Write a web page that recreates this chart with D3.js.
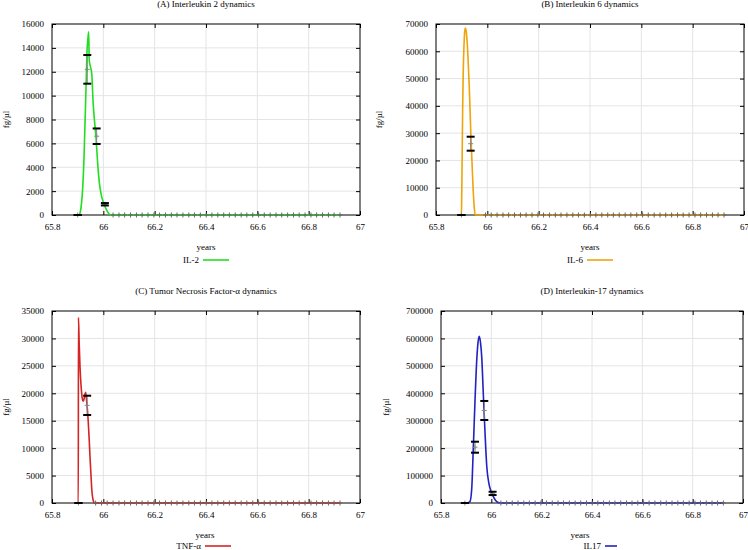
<!DOCTYPE html>
<html>
<head>
<meta charset="utf-8">
<script src="https://cdn.jsdelivr.net/npm/d3@7"></script>
<style>
  html, body { margin: 0; padding: 0; background: #fff; }
  svg { display: block; }
  text { font-family: "Liberation Serif", "Times New Roman", serif; font-size: 9px; fill: #000; }
</style>
</head>
<body>
<div id="chart"></div>
<script>
// ---------------- DATA ----------------
const xTicks = [65.8, 66, 66.2, 66.4, 66.6, 66.8, 67];

const titles = ["(A) Interleukin 2 dynamics", "(B) Interleukin 6 dynamics",
                "(C) Tumor Necrosis Factor-\u03b1 dynamics", "(D) Interleukin-17 dynamics"];
const seriesNames = ["IL-2", "IL-6", "TNF-\u03b1", "IL17"];
const yLabel = "fg/\u00b5l";
const xLabel = "years";

const il2Ticks  = [0, 2000, 4000, 6000, 8000, 10000, 12000, 14000, 16000];
const il6Ticks  = [0, 10000, 20000, 30000, 40000, 50000, 60000, 70000];
const tnfTicks  = [0, 5000, 10000, 15000, 20000, 25000, 30000, 35000];
const il17Ticks = [0, 100000, 200000, 300000, 400000, 500000, 600000, 700000];

// model curves
const il2Years  = [65.886, 65.905, 65.909, 65.915, 65.920, 65.925, 65.929, 65.933, 65.936, 65.940, 65.943, 65.945, 65.950, 65.955, 65.960, 65.966, 65.972, 65.978, 65.985, 65.994, 66.003, 66.013, 66.028, 66.922];
const il2Values = [0, 0, 150, 1000, 2400, 5000, 8000, 11000, 13500, 14800, 15350, 13000, 12400, 11800, 9500, 7800, 6300, 4300, 2600, 1500, 900, 400, 0, 0];

const il6Years  = [65.886, 65.899, 65.900, 65.902, 65.904, 65.906, 65.909, 65.912, 65.915, 65.918, 65.922, 65.926, 65.930, 65.936, 65.943, 65.948, 65.951, 65.954, 66.922];
const il6Values = [0, 0, 5000, 22000, 40000, 52000, 62000, 67500, 68500, 67000, 62500, 55000, 46000, 29000, 13000, 4000, 1000, 0, 0];

const tnfYears  = [65.890, 65.9025, 65.903, 65.906, 65.909, 65.913, 65.916, 65.920, 65.923, 65.927, 65.931, 65.934, 65.938, 65.941, 65.945, 65.948, 65.952, 65.955, 65.960, 65.966, 66.922];
const tnfValues = [0, 0, 33800, 29000, 25000, 21500, 19800, 18700, 18600, 19500, 20200, 19000, 17000, 15000, 11500, 8500, 5000, 2500, 600, 0, 0];

const il17Years  = [65.885, 65.905, 65.915, 65.922, 65.928, 65.935, 65.942, 65.947, 65.952, 65.957, 65.962, 65.968, 65.975, 65.982, 65.991, 66.000, 66.008, 66.018, 66.028, 66.037, 66.922];
const il17Values = [0, 0, 5000, 50000, 190000, 370000, 520000, 585000, 608000, 585000, 530000, 400000, 254000, 132000, 68000, 40000, 23000, 8000, 1500, 0, 0];

// measured data with error bars
const il2ErrYears = [65.900, 65.9375, 65.974, 66.006];
const il2ErrLow   = [0, 11000, 5950, 800];
const il2ErrHigh  = [0, 13400, 7250, 1000];

const il6ErrYears = [65.899, 65.935];
const il6ErrLow   = [0, 23570];
const il6ErrHigh  = [0, 28690];

const tnfErrYears = [65.903, 65.937];
const tnfErrLow   = [0, 16040];
const tnfErrHigh  = [0, 19560];

const il17ErrYears = [65.895, 65.935, 65.972, 66.005];
const il17ErrLow   = [0, 183400, 302600, 29000];
const il17ErrHigh  = [0, 223500, 372000, 41000];

// later measurements sitting at zero
const zeroYears = [65.970, 65.993, 66.015, 66.038, 66.061, 66.083, 66.106, 66.129, 66.151, 66.174, 66.197, 66.219, 66.242, 66.265, 66.287, 66.310, 66.333, 66.355, 66.378, 66.401, 66.423, 66.446, 66.469, 66.491, 66.514, 66.537, 66.559, 66.582, 66.605, 66.627, 66.650, 66.673, 66.695, 66.718, 66.741, 66.763, 66.786, 66.809, 66.831, 66.854, 66.877, 66.899, 66.922];
const zeroFrom = [66.03, 65.99, 65.96, 66.03];

// ---------------- LAYOUT ----------------
const W = 748, H = 550;
const colors = ["#22dd22", "#f0a30a", "#d42424", "#2222c0"];
const boxes = [
  { left: 52,  right: 360, top: 24,  bottom: 215, ylabX: 6,   labShift: 0,   keyDx: -7, keyLen: 26, keyDy: 48 },
  { left: 436, right: 744, top: 24,  bottom: 215, ylabX: 379, labShift: 0,   keyDx: -7, keyLen: 26, keyDy: 48 },
  { left: 52,  right: 360, top: 311, bottom: 503, ylabX: 6,   labShift: -1,  keyDx: -5, keyLen: 26, keyDy: 46 },
  { left: 441, right: 743, top: 311, bottom: 503, ylabX: 386, labShift: -12, keyDx: 9,  keyLen: 12, keyDy: 46 }
];
const curves = [
  { years: il2Years, values: il2Values, ticks: il2Ticks, ex: il2ErrYears, el: il2ErrLow, eh: il2ErrHigh },
  { years: il6Years, values: il6Values, ticks: il6Ticks, ex: il6ErrYears, el: il6ErrLow, eh: il6ErrHigh },
  { years: tnfYears, values: tnfValues, ticks: tnfTicks, ex: tnfErrYears, el: tnfErrLow, eh: tnfErrHigh },
  { years: il17Years, values: il17Values, ticks: il17Ticks, ex: il17ErrYears, el: il17ErrLow, eh: il17ErrHigh }
];

const svg = d3.select("#chart").append("svg").attr("width", W).attr("height", H);

boxes.forEach((b, i) => {
  const c = curves[i];
  const g = svg.append("g");
  const x = d3.scaleLinear().domain([xTicks[0], xTicks[xTicks.length - 1]]).range([b.left, b.right]);
  const y = d3.scaleLinear().domain([c.ticks[0], c.ticks[c.ticks.length - 1]]).range([b.bottom, b.top]);
  const cx = (b.left + b.right) / 2;

  // grid
  g.append("g").selectAll("line.gx").data(xTicks.slice(1, -1)).join("line")
    .attr("x1", d => x(d)).attr("x2", d => x(d)).attr("y1", b.top).attr("y2", b.bottom)
    .attr("stroke", "#e4e4e4").attr("stroke-width", 1);
  g.append("g").selectAll("line.gy").data(c.ticks.slice(1, -1)).join("line")
    .attr("x1", b.left).attr("x2", b.right).attr("y1", d => y(d)).attr("y2", d => y(d))
    .attr("stroke", "#e4e4e4").attr("stroke-width", 1);

  // axes (bottom/left with labels, top/right mirrored ticks)
  const ax = g.append("g").attr("transform", `translate(0,${b.bottom})`)
    .call(d3.axisBottom(x).tickValues(xTicks).tickSize(-4).tickPadding(9).tickFormat(d3.format("")));
  const axT = g.append("g").attr("transform", `translate(0,${b.top})`)
    .call(d3.axisTop(x).tickValues(xTicks).tickSize(-4).tickFormat(""));
  const ay = g.append("g").attr("transform", `translate(${b.left},0)`)
    .call(d3.axisLeft(y).tickValues(c.ticks).tickSize(-4).tickPadding(8).tickFormat(d3.format("d")));
  const ayR = g.append("g").attr("transform", `translate(${b.right},0)`)
    .call(d3.axisRight(y).tickValues(c.ticks).tickSize(-4).tickFormat(""));
  [ax, axT, ay, ayR].forEach(a => {
    a.select(".domain").remove();
    a.selectAll("line").attr("stroke", "#000");
    a.selectAll("text").attr("font-family", "Liberation Serif, serif").attr("font-size", 9).attr("fill", "#000");
  });

  // frame
  g.append("rect").attr("x", b.left).attr("y", b.top)
    .attr("width", b.right - b.left).attr("height", b.bottom - b.top)
    .attr("fill", "none").attr("stroke", "#000").attr("stroke-width", 1);

  // curve
  const pts = c.years.map((yr, k) => [yr, c.values[k]]);
  g.append("path").datum(pts)
    .attr("d", d3.line().x(d => x(d[0])).y(d => y(d[1])).curve(d3.curveMonotoneX))
    .attr("fill", "none").attr("stroke", colors[i]).attr("stroke-width", 1.6);

  // zero-level measurements (+ markers)
  const zs = zeroYears.filter(v => v >= zeroFrom[i]);
  g.append("g").selectAll("path").data(zs).join("path")
    .attr("d", d => `M${x(d)},${y(0) - 2.5}V${y(0) + 2.5}M${x(d) - 2.5},${y(0)}H${x(d) + 2.5}`)
    .attr("stroke", "#666").attr("stroke-width", 1);

  // error bars
  const eg = g.append("g");
  c.ex.forEach((yr, k) => {
    const px = x(yr), lo = y(c.el[k]), hi = y(c.eh[k]), mid = y((c.el[k] + c.eh[k]) / 2);
    eg.append("line").attr("x1", px).attr("x2", px).attr("y1", lo).attr("y2", hi)
      .attr("stroke", "#888").attr("stroke-width", 1);
    eg.append("path").attr("d", `M${px},${mid - 2.5}V${mid + 2.5}M${px - 2.5},${mid}H${px + 2.5}`)
      .attr("stroke", "#888").attr("stroke-width", 1);
    [lo, hi].forEach(yy => {
      eg.append("line").attr("x1", px - 4).attr("x2", px + 4).attr("y1", yy).attr("y2", yy)
        .attr("stroke", "#000").attr("stroke-width", 2);
    });
  });

  // title
  g.append("text").attr("x", cx).attr("y", b.top - 17).attr("text-anchor", "middle").text(titles[i]);
  // x label
  g.append("text").attr("x", cx + b.labShift).attr("y", b.bottom + 35).attr("text-anchor", "middle").text(xLabel);
  // y label
  g.append("text").attr("transform", `translate(${b.ylabX + 3},${(b.top + b.bottom) / 2}) rotate(-90)`)
    .attr("text-anchor", "middle").text(yLabel);
  // legend
  g.append("text").attr("x", cx + b.keyDx).attr("y", b.bottom + b.keyDy).attr("text-anchor", "end").text(seriesNames[i]);
  g.append("line").attr("x1", cx + b.keyDx + 4).attr("x2", cx + b.keyDx + 4 + b.keyLen)
    .attr("y1", b.bottom + b.keyDy - 3).attr("y2", b.bottom + b.keyDy - 3)
    .attr("stroke", colors[i]).attr("stroke-width", 1.6);
});
</script>
</body>
</html>
